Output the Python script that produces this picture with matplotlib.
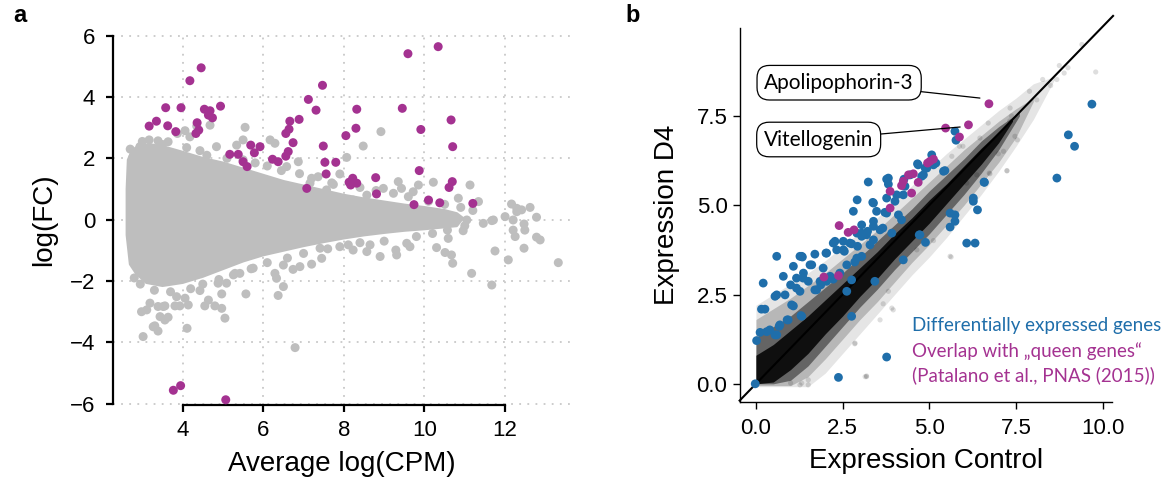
import numpy as np
import matplotlib
matplotlib.use('Agg')
import matplotlib.pyplot as plt

plt.rcParams['font.family'] = ['Liberation Sans', 'DejaVu Sans']

GRAY = '#bebebe'
PURPLE = '#a43291'
BLUE = '#1f6eaa'

# ---------------- panel a: MA plot ----------------
# outline of the dense gray cloud (upper edge left->right, lower edge right->left)
body_up_x = [2.62, 2.65, 2.75, 2.9, 3.2, 3.6, 4.0, 4.5, 5.0, 5.5, 6.0, 6.5, 7.0, 7.5, 8.0, 8.5, 9.0, 9.5, 10.0, 10.5, 10.8, 10.95]
body_up_y = [1.0, 1.95, 2.25, 2.4, 2.45, 2.35, 2.2, 2.0, 1.85, 1.65, 1.45, 1.25, 1.1, 0.95, 0.8, 0.68, 0.58, 0.48, 0.4, 0.3, 0.2, 0.05]
body_lo_x = [10.8, 10.0, 9.5, 9.0, 8.5, 8.0, 7.5, 7.0, 6.5, 6.0, 5.5, 5.0, 4.5, 4.0, 3.5, 3.1, 2.85, 2.7, 2.62]
body_lo_y = [-0.2, -0.3, -0.35, -0.42, -0.5, -0.6, -0.72, -0.85, -1.0, -1.15, -1.35, -1.6, -1.85, -2.05, -2.15, -2.05, -1.75, -1.45, -0.5]

# scattered gray genes outside the dense cloud
ma_gray_x = [3.87, 4.06, 4.18, 4.35, 4.68, 4.84, 5.34, 5.50, 5.55, 6.17, 6.29, 6.58, 6.87, 7.36, 7.90,
             8.07, 8.48, 8.92, 9.35, 9.72, 9.85, 10.22, 10.84, 11.13, 11.34, 12.16, 12.29, 12.29, 12.41,
             12.62, 12.78, 3.17, 3.39, 3.64, 4.43, 2.77, 2.94, 7.16, 7.57, 7.74, 8.23, 8.57, 8.98, 9.23,
             9.43, 11.71, 12.00, 12.20, 12.20, 12.47, 12.49, 12.78, 12.87, 10.96, 10.59, 11.05, 11.46,
             11.67, 12.25, 12.47, 11.75, 12.08, 13.32, 11.17, 11.67, 10.59, 10.30, 10.51, 10.67, 10.70,
             9.56, 9.64, 9.29, 9.31, 8.90, 8.57, 8.65, 10.57, 3.02, 3.27, 3.39, 3.44, 3.56, 3.64, 2.98,
             3.11, 3.39, 3.56, 3.81, 3.93, 3.85, 4.06, 4.14, 4.11, 4.43, 4.55, 4.64, 4.80, 4.97, 5.05,
             4.97, 5.09, 4.88, 5.57, 5.26, 5.42, 5.75, 6.33, 6.29, 6.50, 6.37, 6.50, 6.74, 6.91, 6.79,
             7.20, 7.45, 7.41, 7.90, 8.11, 8.23, 3.31, 3.19, 3.52,
             5.5, 5.8, 6.1, 6.45, 6.9, 7.2, 7.7, 8.4, 8.8, 9.6, 10.1, 10.5, 10.9, 11.2, 11.0, 10.2, 9.8,
             9.0, 8.4, 7.6, 7.0, 6.6, 6.1, 5.7, 5.3, 4.9, 4.5, 4.2, 3.7, 3.3, 2.95, 2.8, 2.7, 3.0, 3.5,
             4.1, 4.6, 5.1]
ma_gray_y = [2.81, 2.90, 2.70, 3.05, 3.08, 2.38, 2.43, 2.60, 3.01, 2.60, 2.49, 1.73, 1.89, 1.40, 1.49,
             2.03, 2.40, 2.87, 1.24, 0.91, 1.13, 1.22, 0.70, 1.13, 0.59, 0.51, 0.26, 0.37, 0.32,
             0.40, 0.08, 2.60, 2.57, 2.54, 2.25, 2.05, 2.38, 1.19, 0.97, 1.15, 0.64, 0.80, 1.02, 0.86,
             1.02, -0.01, 0.10, -0.01, -0.34, -0.14, -0.34, -0.57, -0.66, -0.36, -0.12, -0.01, -0.12,
             -0.03, -0.55, -0.93, -1.02, -1.31, -1.40, -1.75, -2.13, -0.61, -0.91, -1.07, -1.15, -1.42,
             -0.77, -0.88, -0.99, -1.15, -1.20, -1.04, -0.82, -0.34, -3.81, -3.49, -3.63, -3.16, -3.27, -3.18, -3.00,
             -2.94, -2.83, -2.81, -2.81, -2.81, -2.51, -2.56, -2.78, -3.54, -2.31, -2.81, -2.62, -2.81, -2.89, -3.21,
             -2.42, -2.07, -2.07, -2.42, -1.80, -1.75, -1.58, -1.91, -1.75, -2.18, -2.47, -1.48, -1.62, -1.53, -4.17,
             -1.45, -1.26, -0.93, -0.88, -0.82, -0.99, -3.46, -2.72, -2.83,
             1.95, 1.85, 1.75, 1.6, 1.5, 1.35, 1.2, 1.05, 0.95, 0.75, 0.6, 0.5, 0.4, 0.3, -0.2, -0.45, -0.55,
             -0.7, -0.75, -0.95, -1.1, -1.25, -1.4, -1.6, -1.75, -1.95, -2.1, -2.25, -2.35, -2.3, -2.1, -1.9, 2.3, 2.55, 2.45,
             2.35, 2.1, 2.0]

# genes overlapping with the "queen genes"
ma_sig_x = [3.17, 3.35, 3.58, 3.63, 3.83, 3.96, 4.18, 4.36, 4.40, 4.33, 4.46, 4.54, 4.68, 4.64, 4.74,
            4.94, 5.17, 5.38, 5.50, 5.60, 5.69, 5.78, 5.92, 6.23, 6.37, 6.56, 6.64, 6.66, 6.74, 6.56,
            6.62, 6.89, 7.08, 7.12, 7.31, 7.47, 7.49, 7.53, 7.56, 7.80, 8.05, 8.13, 8.22, 8.17, 8.32,
            8.30, 8.32, 8.79, 8.81, 9.45, 9.59, 9.74, 9.87, 9.91, 10.10, 10.34, 10.38, 10.61, 10.69,
            10.66, 10.70, 11.20, 3.77, 3.95, 5.07]
ma_sig_y = [3.05, 3.21, 3.65, 3.06, 2.87, 3.65, 4.53, 3.16, 2.92, 2.81, 4.95, 3.60, 3.55, 3.41, 3.32,
            3.70, 2.13, 2.13, 1.89, 1.73, 2.43, 2.18, 2.38, 1.97, 1.89, 2.81, 2.95, 3.21, 2.51, 2.07,
            2.22, 3.27, 1.02, 3.92, 3.57, 4.38, 2.40, 1.87, 1.49, 1.87, 2.74, 1.22, 1.35, 1.13, 1.19,
            2.98, 3.60, 1.37, 0.84, 3.63, 5.41, 0.49, 1.60, 2.94, 0.64, 5.64, 0.55, 1.05, 1.24,
            3.25, 2.38, 0.53, -5.56, -5.41, -5.87]

ma_xticks = [4, 6, 8, 10, 12]
ma_yticks = [-6, -4, -2, 0, 2, 4, 6]

# ---------------- panel b: expression scatter ----------------
# density of the bulk of genes, drawn as stacked translucent bands (outer -> inner)
haze_x = [0, 0.5, 1, 1.5, 2, 2.5, 3, 3.5, 4, 4.5, 5, 5.5, 6, 6.5, 7, 7.5, 8, 8.6]
haze_up = [2.2, 2.5, 2.8, 3.1, 3.45, 3.85, 4.25, 4.65, 5.1, 5.55, 6.0, 6.45, 6.85, 7.25, 7.65, 8.0, 8.4, 8.6]
haze_lo = [-0.08, -0.08, -0.08, -0.08, 0.3, 0.85, 1.4, 1.95, 2.5, 3.05, 3.55, 4.1, 4.7, 5.3, 5.95, 6.65, 7.4, 8.5]
outer_x = [0, 0.5, 1, 1.5, 2, 2.5, 3, 3.5, 4, 4.5, 5, 5.5, 6, 6.5, 7, 7.5, 8.0]
outer_up = [1.8, 2.1, 2.4, 2.75, 3.1, 3.5, 3.9, 4.3, 4.75, 5.2, 5.65, 6.1, 6.55, 6.95, 7.35, 7.7, 8.0]
outer_lo = [-0.05, -0.05, -0.05, 0.2, 0.7, 1.25, 1.8, 2.3, 2.85, 3.4, 3.9, 4.45, 5.0, 5.6, 6.2, 6.9, 7.9]
mid_x = [0, 0.5, 1, 1.5, 2, 2.5, 3, 3.5, 4, 4.5, 5, 5.5, 6, 6.5, 7, 7.6]
mid_up = [1.3, 1.6, 1.9, 2.3, 2.7, 3.1, 3.55, 4.0, 4.45, 4.9, 5.4, 5.85, 6.3, 6.8, 7.2, 7.6]
mid_lo = [0.0, 0.0, 0.1, 0.5, 1.05, 1.6, 2.15, 2.65, 3.2, 3.7, 4.2, 4.75, 5.3, 5.9, 6.55, 7.5]
core_x = [0, 0.5, 1, 1.5, 2, 2.5, 3, 3.5, 4, 4.5, 5, 5.5, 6, 6.5, 7, 7.4]
core_up = [0.8, 1.1, 1.5, 1.9, 2.35, 2.8, 3.25, 3.7, 4.2, 4.65, 5.15, 5.6, 6.1, 6.6, 7.05, 7.4]
core_lo = [0.0, 0.05, 0.4, 0.85, 1.4, 1.9, 2.45, 2.95, 3.5, 4.0, 4.5, 5.05, 5.6, 6.15, 6.75, 7.35]

# sparse genes around the cloud
bg_x = [9.40, 9.80, 8.75, 8.89, 8.68, 8.27, 7.89, 7.33, 6.70, 7.47, 7.54, 7.14, 6.99, 7.24, 6.73, 6.37,
        5.65, 5.97, 7.37, 7.32, 6.75, 7.24, 5.87, 6.46, 6.08, 5.63, 3.92, 3.58, 2.85, 3.19, 1.51, 1.32,
        1.00, 3.82, 5.12, 3.15, 1.51, 1.27, 5.60, 3.96, 3.19, 2.86, 3.67, 4.64, 8.1, 8.5, 9.0]
bg_y = [9.50, 8.73, 8.91, 8.70, 8.52, 8.52, 8.19, 7.72, 7.30, 6.93, 6.83, 6.51, 6.44, 5.96, 5.90, 5.85,
        6.37, 6.65, 7.50, 7.36, 5.88, 5.97, 6.65, 6.88, 5.62, 3.55, 2.12, 1.79, 1.12, 0.22, 0.11, 0.02,
        0.02, 2.59, 4.01, 0.20, -0.03, -0.03, 3.57, 2.07, 0.20, 1.14, 2.24, 3.75, 7.95, 8.35, 8.85]

de_x = [5.07, 4.68, 5.12, 5.41, 3.82, 3.24, 4.83, 4.25, 3.77, 3.39, 2.92, 2.81, 3.48, 4.01, 4.11, 4.30,
        3.77, 3.39, 3.05, 3.05, 2.28, 2.33, 2.04, 1.61, 1.32, 0.60, 1.08, 0.79, 1.17, 1.37, 1.51, 1.85,
        1.94, 2.14, 2.62, 2.91, 2.52, 2.71, 3.05, 0.84, 1.03, 1.27, 1.70, 0.21, 0.16, 0.26, 0.55, 1.30,
        0.69, 0.40, 0.12, 0.31, 0.55, 0.02, 0.93, 2.76, 3.77, 2.38, 4.25, 3.43, 4.73, 5.60, 5.74, 5.60,
        6.08, 6.32, 6.27, 6.27, 6.39, 6.58, 4.88, 9.69, 9.01, 9.19, 8.68, 5.74, 5.77, 6.59, 5.74, 5.45,
        5.19, 4.66, 4.93, 3.77, 3.82, 3.37, 3.72, 4.06, 4.27, 4.45, 4.78, 3.39, 2.91, 2.76, 3.39, 3.92,
        3.66, 4.20, 4.71, 4.89, 1.34, 2.55, 3.05, 3.22, 0.60, 1.08, 0.90, 1.32, 0.67, 0.60, 1.56, 1.27,
        2.04, 2.23, 1.00, 1.17, 1.36, 1.75, 1.87, 2.62, 2.42, 2.76, 1.70, 2.02, 2.23, 2.52, 2.93, 3.29,
        3.19, 3.58, 2.85, -0.02]
de_y = [6.41, 6.13, 6.13, 5.95, 5.76, 5.65, 5.85, 5.29, 5.20, 5.06, 5.15, 4.83, 4.83, 5.11, 4.73, 5.53,
        4.78, 4.41, 4.45, 4.22, 3.99, 3.75, 3.66, 3.33, 3.57, 3.57, 3.29, 3.01, 2.96, 3.10, 2.87, 2.87,
        3.24, 3.01, 3.33, 3.52, 3.75, 3.94, 3.57, 2.49, 2.21, 2.59, 2.63, 2.82, 2.09, 2.09, 2.45, 1.91,
        1.65, 1.51, 1.44, 1.46, 1.37, 1.21, 1.79, 1.89, 0.75, 0.18, 3.47, 2.87, 4.17, 4.78, 4.55, 4.39,
        3.94, 3.94, 5.20, 5.11, 4.87, 5.65, 6.04, 7.83, 6.97, 6.65, 5.76, 7.07, 6.82, 5.64, 4.73, 5.97,
        6.18, 6.16, 6.04, 5.73, 5.59, 5.08, 4.80, 5.29, 5.73, 5.85, 5.81, 4.55, 4.22, 3.92, 4.03, 4.22,
        4.36, 4.59, 4.17, 3.96, 3.55, 3.71, 4.13, 4.27, 2.49, 2.18, 1.79, 1.89, 1.61, 1.37, 3.33, 3.57,
        2.87, 2.93, 2.77, 2.68, 2.96, 2.63, 2.77, 2.59, 3.10, 2.91, 3.63, 3.66, 3.94, 3.99, 3.85, 3.89,
        4.17, 4.31, 3.41, 0.00]

queen_x = [6.72, 6.13, 5.47, 5.87, 5.12, 5.02, 4.95, 4.54, 4.40, 4.25, 4.68, 4.20, 3.87, 4.49, 3.87,
           2.40, 2.66, 2.83, 1.96, 2.38]
queen_y = [7.84, 7.25, 7.16, 6.91, 6.29, 6.23, 6.18, 5.88, 5.85, 5.67, 5.64, 5.55, 5.39, 5.34, 4.92,
           4.43, 4.24, 4.31, 2.99, 3.03]

ex_ticks = [0.0, 2.5, 5.0, 7.5, 10.0]
ex_yticks = [0.0, 2.5, 5.0, 7.5]

fig = plt.figure(figsize=(11.74, 4.86), dpi=100)

# ---- a ----
ax1 = fig.add_axes([0.0965, 0.1667, 0.389, 0.7613])
ax1.set_xlim(2.28, 13.61)
ax1.set_ylim(-6.04, 6.02)
for v in ma_xticks:
    ax1.axvline(v, color='#c8c8c8', lw=1.3, ls=(0, (1, 3.5)), zorder=0)
for v in ma_yticks:
    ax1.axhline(v, color='#c8c8c8', lw=1.3, ls=(0, (1, 3.5)), zorder=0)
ax1.fill(body_up_x + body_lo_x, body_up_y + body_lo_y, fc=GRAY, ec=GRAY, lw=2, joinstyle='round', zorder=1)
ax1.scatter(ma_gray_x, ma_gray_y, s=42, color=GRAY, edgecolors='none', zorder=2)
ax1.scatter(ma_sig_x, ma_sig_y, s=42, color=PURPLE, edgecolors='none', zorder=3, clip_on=False)
ax1.set_xticks(ma_xticks)
ax1.set_yticks(ma_yticks)
ax1.spines[['top', 'right']].set_visible(False)
ax1.spines['left'].set_bounds(-6, 6)
ax1.spines['bottom'].set_bounds(4, 12)
for s in ['left', 'bottom']:
    ax1.spines[s].set_linewidth(1.6)
ax1.tick_params(labelsize=16, length=5, width=1.6)
ax1.tick_params(axis='y', pad=8)
ax1.tick_params(axis='x', pad=6)
ax1.set_xlabel('Average log(CPM)', fontsize=20, labelpad=7)
ax1.set_ylabel('log(FC)', fontsize=20, labelpad=9)

# ---- b ----
ax2 = fig.add_axes([0.6303, 0.1735, 0.3169, 0.7695])
ax2.set_xlim(-0.46, 10.27)
ax2.set_ylim(-0.5, 9.97)
ax2.fill_between(haze_x, haze_lo, haze_up, color='black', alpha=0.1, lw=0, zorder=1)
ax2.fill_between(outer_x, outer_lo, outer_up, color='black', alpha=0.2, lw=0, zorder=1)
ax2.fill_between(mid_x, mid_lo, mid_up, color='black', alpha=0.45, lw=0, zorder=1)
ax2.fill_between(core_x, core_lo, core_up, color='black', alpha=0.85, lw=0, zorder=1)
ax2.scatter(bg_x, bg_y, s=14, color='black', alpha=0.13, edgecolors='none', zorder=1)
ax2.plot([-0.47, 10.3], [-0.47, 10.3], color='black', lw=1.5, zorder=2, clip_on=False)
ax2.scatter(de_x, de_y, s=40, color=BLUE, edgecolors='none', zorder=3)
ax2.scatter(queen_x, queen_y, s=40, color=PURPLE, edgecolors='none', zorder=4)
ax2.set_xticks(ex_ticks)
ax2.set_yticks(ex_yticks)
ax2.xaxis.set_major_formatter('{x:.1f}')
ax2.yaxis.set_major_formatter('{x:.1f}')
ax2.spines[['top', 'right']].set_visible(False)
for s in ['left', 'bottom']:
    ax2.spines[s].set_linewidth(1.0)
ax2.tick_params(labelsize=16, length=5, width=1.0)
ax2.tick_params(axis='x', pad=7)
ax2.tick_params(axis='y', pad=4)
ax2.set_xlabel('Expression Control', fontsize=20, labelpad=6)
ax2.set_ylabel('Expression D4', fontsize=20, labelpad=12)

box = dict(boxstyle='round,pad=0.35,rounding_size=0.6', fc='white', ec='black', lw=0.9)
lfont = ['Lato', 'DejaVu Sans']
ax2.annotate('Apolipophorin-3', xy=(6.46, 8.0), xytext=(2.40, 8.43), fontsize=15, family=lfont,
             ha='center', va='center', bbox=box, zorder=5,
             arrowprops=dict(arrowstyle='-', color='black', lw=0.9, shrinkA=0, shrinkB=0))
ax2.annotate('Vitellogenin', xy=(5.89, 7.19), xytext=(1.81, 6.84), fontsize=15, family=lfont,
             ha='center', va='center', bbox=box, zorder=5,
             arrowprops=dict(arrowstyle='-', color='black', lw=0.9, shrinkA=0, shrinkB=0))

ax2.text(4.50, 1.465, 'Differentially expressed genes', color=BLUE, fontsize=13.5, family=lfont, va='baseline')
ax2.text(4.50, 0.765, 'Overlap with \u201equeen genes\u201c', color=PURPLE, fontsize=13.5, family=lfont, va='baseline')
ax2.text(4.50, 0.08, '(Patalano et al., PNAS (2015))', color=PURPLE, fontsize=13.5, family=lfont, va='baseline')

fig.text(13 / 1174, 1 - 16 / 486, 'a', fontsize=17, fontweight='bold', va='center')
fig.text(625 / 1174, 1 - 16 / 486, 'b', fontsize=17, fontweight='bold', va='center')

fig.savefig('out.png', dpi=100)
